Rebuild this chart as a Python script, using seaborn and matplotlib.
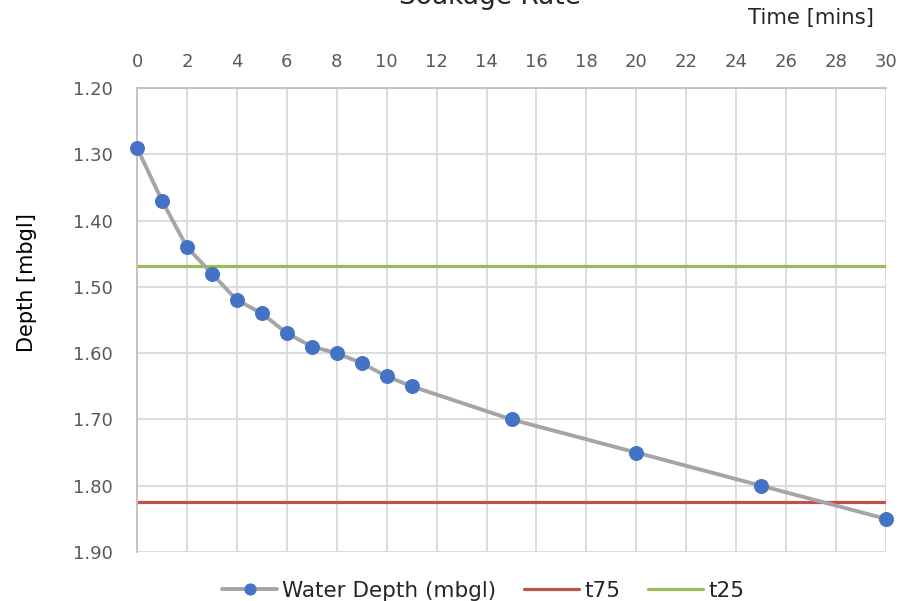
import matplotlib
matplotlib.use("Agg")
import matplotlib.pyplot as plt
import seaborn as sns
import pandas as pd

# data
time_mins = [0, 1, 2, 3, 4, 5, 6, 7, 8, 9, 10, 11, 15, 20, 25, 30]
water_depth = [1.29, 1.37, 1.44, 1.48, 1.52, 1.54, 1.57, 1.59, 1.60, 1.615,
               1.635, 1.65, 1.70, 1.75, 1.80, 1.85]
t75 = 1.824
t25 = 1.468

x_ticks = list(range(0, 31, 2))
y_ticks = [1.20, 1.30, 1.40, 1.50, 1.60, 1.70, 1.80, 1.90]

df = pd.DataFrame({"time": time_mins, "depth": water_depth})

sns.set_style("white")
plt.rcParams['font.family'] = ['DejaVu Sans']

fig = plt.figure(figsize=(9.11, 6.01), dpi=100)
ax = fig.add_axes([0.1504, 0.0815, 0.8222, 0.7721])

sns.lineplot(data=df, x="time", y="depth", ax=ax, color="#A5A5A5", lw=2.8,
             marker="o", markersize=10, markerfacecolor="#4472C4",
             markeredgecolor="#4472C4", label="Water Depth (mbgl)", zorder=3,
             clip_on=False)
ax.axhline(t75, color="#C0504D", lw=2.3, label="t75", zorder=2)
ax.axhline(t25, color="#9BBB59", lw=2.3, label="t25", zorder=2)

ax.set_xlim(0, 30)
ax.set_ylim(1.90, 1.20)
ax.set_xticks(x_ticks)
ax.set_yticks(y_ticks)
ax.set_yticklabels(["%.2f" % v for v in y_ticks])
ax.xaxis.tick_top()
ax.tick_params(axis="both", length=0, labelsize=13, colors="#595959", pad=12)
ax.tick_params(axis="y", pad=17.5)
ax.grid(True, color="#D9D9D9", lw=1.3)
ax.set_axisbelow(True)
for side in ["right", "bottom"]:
    ax.spines[side].set_visible(False)
for side in ["left", "top"]:
    ax.spines[side].set_color("#BFBFBF")
    ax.spines[side].set_linewidth(1.3)

ax.set_xlabel("")
ax.set_ylabel("Depth [mbgl]", fontsize=15, color="#000000")
ax.yaxis.set_label_coords(-0.1335, 0.58)
fig.text(0.959, 0.97, "Time [mins]", ha="right", va="center", fontsize=15.3)
fig.text(0.538, 1.005, "Soakage Rate", ha="center", va="center", fontsize=19)

ax.legend(loc="upper center", bbox_to_anchor=(0.462, -0.02), ncol=3,
          frameon=False, fontsize=15.5, handlelength=2.55, handletextpad=0.23,
          columnspacing=1.3, markerscale=0.8)

fig.savefig("out.png", dpi=100)
